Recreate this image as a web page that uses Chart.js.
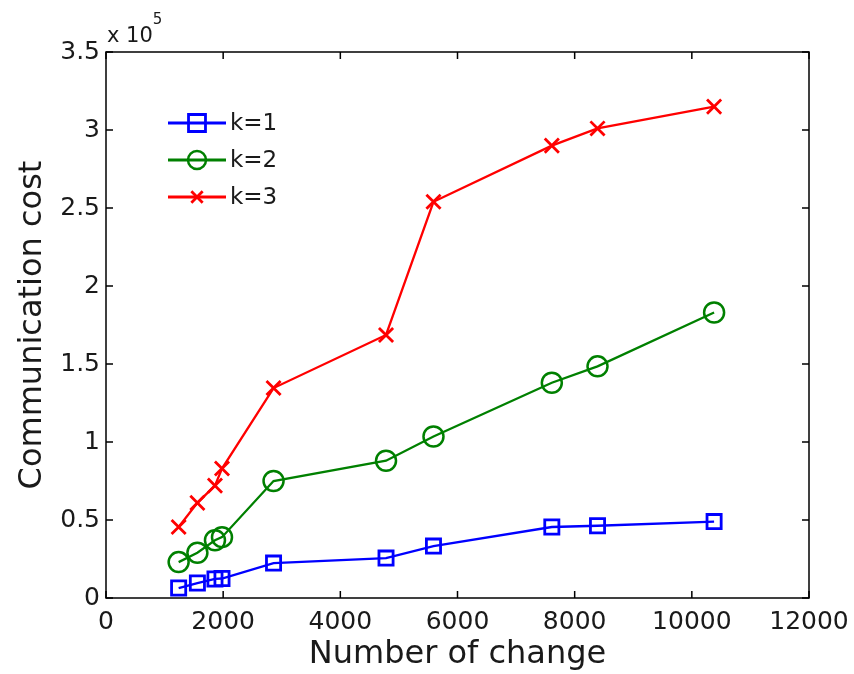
<!DOCTYPE html>
<html>
<head>
<meta charset="utf-8">
<script src="https://cdn.jsdelivr.net/npm/chart.js@4/dist/chart.umd.min.js"></script>
<style>
  html, body { margin: 0; padding: 0; background: #fff; }
  #wrap { width: 854px; height: 674px; }
</style>
</head>
<body>
<div id="wrap"><canvas id="costChart" width="854" height="674"></canvas></div>
<script>

// number of changes (x) shared by all series
const changes = [1240, 1560, 1860, 1980, 2860, 4780, 5590, 7610, 8390, 10380];

// communication cost for each k
const costK1 = [6400, 9600, 12200, 12500, 22400, 25600, 33300, 45500, 46300, 49000];
const costK2 = [23000, 29000, 37000, 39000, 75000, 88000, 103500, 138000, 148500, 183000];
const costK3 = [45500, 61000, 72000, 83000, 134600, 168600, 254000, 290000, 301000, 315000];

const seriesNames = ["k=1", "k=2", "k=3"];

const xTicks = [0, 2000, 4000, 6000, 8000, 10000, 12000];
const yTicks = [0, 50000, 100000, 150000, 200000, 250000, 300000, 350000];

const textColor = "#1a1a1a";
const fontFamily = "'DejaVu Sans', sans-serif";

function toPoints(ys){
    return changes.map((x, i) => ({ x: x, y: ys[i] }));
}

// frame with inward ticks, "x 10^5" factor and the line+marker legend
const matlabAxes = {
    id: "matlabAxes",
    afterDatasetsDraw(chart){
        const ctx = chart.ctx;
        const a = chart.chartArea;
        const xs = chart.scales.x;
        const ys = chart.scales.y;

        ctx.save();
        ctx.strokeStyle = "#000";
        ctx.lineWidth = 1.5;
        ctx.strokeRect(a.left, a.top, a.right - a.left, a.bottom - a.top);

        ctx.beginPath();
        xTicks.forEach(v => {
            const px = xs.getPixelForValue(v);
            ctx.moveTo(px, a.bottom); ctx.lineTo(px, a.bottom - 7);
            ctx.moveTo(px, a.top); ctx.lineTo(px, a.top + 7);
        });
        yTicks.forEach(v => {
            const py = ys.getPixelForValue(v);
            ctx.moveTo(a.left, py); ctx.lineTo(a.left + 7, py);
            ctx.moveTo(a.right, py); ctx.lineTo(a.right - 7, py);
        });
        ctx.stroke();

        // exponent label
        ctx.fillStyle = textColor;
        ctx.textBaseline = "alphabetic";
        ctx.textAlign = "left";
        ctx.font = "21px " + fontFamily;
        ctx.fillText("x 10", a.left + 1, a.top - 10);
        const w = ctx.measureText("x 10").width;
        ctx.font = "15px " + fontFamily;
        ctx.fillText("5", a.left + 1 + w, a.top - 28);

        // legend
        const legX = a.left + 62;
        const legY = [123, 160, 197];
        const legRadius = [12, 9, 8];
        chart.data.datasets.forEach((ds, i) => {
            const y = legY[i];
            ctx.strokeStyle = ds.borderColor;
            ctx.lineWidth = 3;
            ctx.beginPath();
            ctx.moveTo(legX, y);
            ctx.lineTo(legX + 58, y);
            ctx.stroke();
            ctx.fillStyle = "rgba(0,0,0,0)";
            ctx.lineWidth = ds.pointBorderWidth;
            Chart.helpers.drawPoint(ctx, {
                pointStyle: ds.pointStyle,
                radius: legRadius[i],
                borderWidth: ds.pointBorderWidth,
                rotation: 0
            }, legX + 29, y);
            ctx.fillStyle = textColor;
            ctx.font = "23px " + fontFamily;
            ctx.textBaseline = "middle";
            ctx.fillText(ds.label, legX + 62, y + 1);
        });
        ctx.restore();
    }
};

const chart = new Chart(document.getElementById("costChart").getContext("2d"), {

    type: "line",

    data: {
        datasets: [
            {
                label: seriesNames[0],
                data: toPoints(costK1),
                borderColor: "#0000ff",
                backgroundColor: "rgba(0,0,0,0)",
                borderWidth: 2.3,
                pointStyle: "rect",
                pointRadius: 10,
                pointBorderWidth: 2.8,
                pointBorderColor: "#0000ff",
                pointBackgroundColor: "rgba(0,0,0,0)"
            },
            {
                label: seriesNames[1],
                data: toPoints(costK2),
                borderColor: "#008000",
                backgroundColor: "rgba(0,0,0,0)",
                borderWidth: 2.3,
                pointStyle: "circle",
                pointRadius: 10,
                pointBorderWidth: 2.5,
                pointBorderColor: "#008000",
                pointBackgroundColor: "rgba(0,0,0,0)"
            },
            {
                label: seriesNames[2],
                data: toPoints(costK3),
                borderColor: "#ff0000",
                backgroundColor: "rgba(0,0,0,0)",
                borderWidth: 2.3,
                pointStyle: "crossRot",
                pointRadius: 10,
                pointBorderWidth: 2.8,
                pointBorderColor: "#ff0000",
                pointBackgroundColor: "rgba(0,0,0,0)"
            }
        ]
    },

    options: {
        responsive: false,
        animation: false,
        layout: { padding: { top: 52, right: 45, left: 0, bottom: 0 } },
        plugins: {
            legend: { display: false },
            tooltip: { enabled: false }
        },
        elements: { line: { tension: 0 } },
        scales: {
            x: {
                type: "linear",
                min: 0,
                max: 12000,
                grid: { display: false, drawTicks: false },
                border: { display: false },
                afterBuildTicks(scale){
                    scale.ticks = xTicks.map(v => ({ value: v }));
                },
                afterFit(scale){
                    scale.height = 76;
                    scale.paddingLeft = 0;
                    scale.paddingRight = 0;
                },
                ticks: {
                    color: textColor,
                    font: { family: fontFamily, size: 25 },
                    padding: 9,
                    maxRotation: 0,
                    callback: v => String(v)
                },
                title: {
                    display: true,
                    text: "Number of change",
                    color: textColor,
                    font: { family: fontFamily, size: 32 },
                    padding: { top: 0, bottom: 0 }
                }
            },
            y: {
                type: "linear",
                min: 0,
                max: 350000,
                grid: { display: false, drawTicks: false },
                border: { display: false },
                afterBuildTicks(scale){
                    scale.ticks = yTicks.map(v => ({ value: v }));
                },
                afterFit(scale){
                    scale.width = 106;
                    scale.paddingTop = 0;
                    scale.paddingBottom = 0;
                },
                ticks: {
                    color: textColor,
                    font: { family: fontFamily, size: 25 },
                    padding: 6,
                    callback: v => String(v / 100000)
                },
                title: {
                    display: true,
                    text: "Communication cost",
                    color: textColor,
                    font: { family: fontFamily, size: 32 },
                    padding: { top: 13, bottom: 0 }
                }
            }
        }
    },

    plugins: [matlabAxes]

});
</script>
</body>
</html>
